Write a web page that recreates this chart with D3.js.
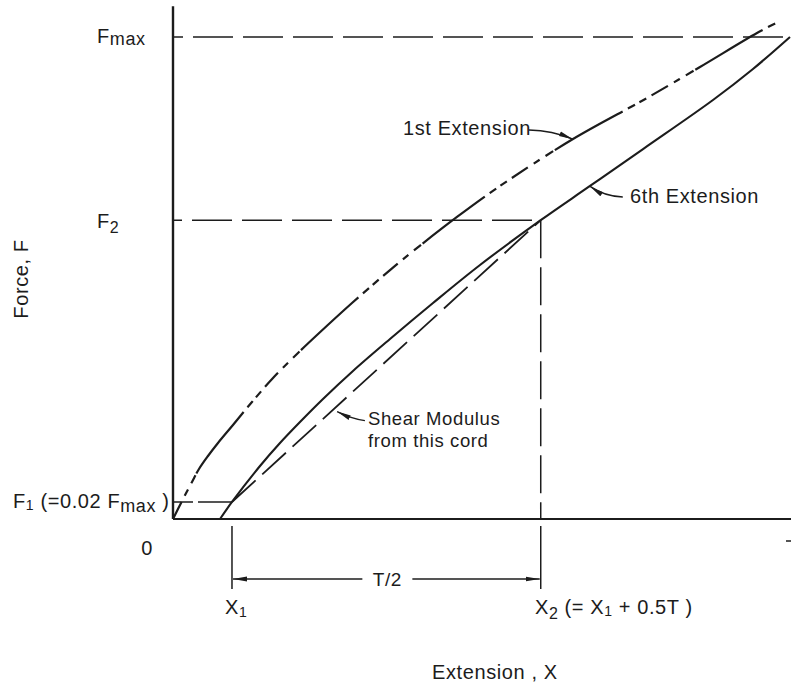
<!DOCTYPE html>
<html>
<head>
<meta charset="utf-8">
<script src="https://cdn.jsdelivr.net/npm/d3@7"></script>
<style>
  html, body { margin: 0; padding: 0; background: #fff; }
  svg { display: block; }
  text { font-family: "Liberation Sans", Arial, sans-serif; fill: #1c1c1c; letter-spacing: 0.6px; }
</style>
</head>
<body>
<svg id="chart" width="791" height="686"></svg>
<script>
// ---------------- DATA (extension in % of full width, force in % of Fmax) ----------------
const firstExtension = [
  [0, 0], [1.46, 3.73], [3.08, 7.68], [4.21, 10.37], [5.67, 13.07], [7.29, 15.77],
  [9.72, 19.50], [12.80, 24.27], [16.21, 29.25], [20.26, 34.44], [23.34, 38.17],
  [29.01, 44.81], [34.04, 50.41], [38.74, 55.39], [46.03, 62.66], [53.00, 69.09],
  [64.83, 78.84], [76.82, 87.34], [85.41, 93.78], [94.65, 100.83], [98.06, 103.11]
];
const sixthExtension = [
  [7.62, 0], [9.56, 3.53], [14.10, 11.00], [17.34, 15.77], [20.58, 20.12],
  [24.31, 24.90], [29.17, 30.71], [35.17, 37.34], [42.14, 44.81], [49.76, 52.70],
  [59.6, 62.0], [67.59, 69.09], [76.18, 76.76], [87.52, 86.93], [94.00, 93.36], [100, 100]
];
const forceLevels = { F1: 3.53, F2: 62.0, Fmax: 100 };
const extensionMarks = { X1: 9.56, X2: 59.6 };
const xDomain = [0, 100];
const yDomain = [0, 100];

// ---------------- LAYOUT ----------------
const svg = d3.select("#chart");
const x = d3.scaleLinear().domain(xDomain).range([173, 790]);
const y = d3.scaleLinear().domain(yDomain).range([519, 37]);
const ink = "#1c1c1c";

const defs = svg.append("defs");
defs.append("marker").attr("id", "ah")
  .attr("viewBox", "0 0 14 6").attr("refX", 14).attr("refY", 3)
  .attr("markerWidth", 14).attr("markerHeight", 6)
  .attr("markerUnits", "userSpaceOnUse").attr("orient", "auto-start-reverse")
  .append("path").attr("d", "M0,0.6 L14,3 L0,5.4 Z").attr("fill", ink);

// axes
svg.append("line").attr("x1", x(0)).attr("x2", x(0)).attr("y1", y(106.4)).attr("y2", y(0))
  .attr("stroke", ink).attr("stroke-width", 2.4);
svg.append("line").attr("x1", x(0)).attr("x2", 791).attr("y1", y(0)).attr("y2", y(0))
  .attr("stroke", ink).attr("stroke-width", 2);
// small right-end tick
svg.append("line").attr("x1", 786).attr("x2", 791).attr("y1", 541).attr("y2", 541)
  .attr("stroke", ink).attr("stroke-width", 1.5);

// reference dashed lines
const dashRef = "40,10";
svg.append("line").attr("x1", x(0)).attr("x2", x(100)).attr("y1", y(forceLevels.Fmax)).attr("y2", y(forceLevels.Fmax))
  .attr("stroke", ink).attr("stroke-width", 1.5).attr("stroke-dasharray", dashRef).attr("stroke-dashoffset", 30);
svg.append("line").attr("x1", x(0)).attr("x2", x(extensionMarks.X2)).attr("y1", y(forceLevels.F2)).attr("y2", y(forceLevels.F2))
  .attr("stroke", ink).attr("stroke-width", 1.5).attr("stroke-dasharray", dashRef).attr("stroke-dashoffset", 31);
svg.append("line").attr("x1", x(extensionMarks.X2)).attr("x2", x(extensionMarks.X2)).attr("y1", y(forceLevels.F2)).attr("y2", y(0))
  .attr("stroke", ink).attr("stroke-width", 1.5).attr("stroke-dasharray", "38,9");
svg.append("line").attr("x1", x(0)).attr("x2", x(extensionMarks.X1)).attr("y1", y(forceLevels.F1)).attr("y2", y(forceLevels.F1))
  .attr("stroke", ink).attr("stroke-width", 1.5).attr("stroke-dasharray", "20,5,40");

// chord (shear modulus)
svg.append("line")
  .attr("x1", x(extensionMarks.X1)).attr("y1", y(forceLevels.F1))
  .attr("x2", x(extensionMarks.X2)).attr("y2", y(forceLevels.F2))
  .attr("stroke", ink).attr("stroke-width", 1.8).attr("stroke-dasharray", "32,9");

// curves
const line = d3.line().x(d => x(d[0])).y(d => y(d[1])).curve(d3.curveCatmullRom.alpha(0.5));
svg.append("path").datum(firstExtension).attr("d", line)
  .attr("fill", "none").attr("stroke", ink).attr("stroke-width", 2.2)
  .attr("stroke-dasharray", "19,7,7,7,9,2,78,6,8,5,8,6");
svg.append("path").datum(sixthExtension).attr("d", line)
  .attr("fill", "none").attr("stroke", ink).attr("stroke-width", 2.1);

// extension markers below axis
[extensionMarks.X1, extensionMarks.X2].forEach(v => {
  svg.append("line").attr("x1", x(v)).attr("x2", x(v)).attr("y1", 526).attr("y2", 589)
    .attr("stroke", ink).attr("stroke-width", 1.5);
});
// T/2 dimension arrow
const tMid = (extensionMarks.X1 + extensionMarks.X2) / 2;
svg.append("line").attr("x1", x(tMid) - 24).attr("x2", x(extensionMarks.X1) + 1).attr("y1", 579).attr("y2", 579)
  .attr("stroke", ink).attr("stroke-width", 1.5).attr("marker-end", "url(#ah)");
svg.append("line").attr("x1", x(tMid) + 26).attr("x2", x(extensionMarks.X2) - 1).attr("y1", 579).attr("y2", 579)
  .attr("stroke", ink).attr("stroke-width", 1.5).attr("marker-end", "url(#ah)");
svg.append("text").attr("x", x(tMid) + 1).attr("y", 586).attr("text-anchor", "middle")
  .attr("font-size", 19).text("T/2");

// annotation arrows (tail -> tip, in data units)
const annotArrows = [
  { tail: [57.7, 80.7], ctrl: [61.5, 80.6], tip: [64.8, 78.8] },
  { tail: [72.9, 66.8], ctrl: [70.0, 66.9], tip: [67.6, 69.0] },
  { tail: [31.1, 20.4], ctrl: [28.8, 20.9], tip: [26.6, 22.3] }
];
annotArrows.forEach(a => {
  svg.append("path")
    .attr("d", `M${x(a.tail[0])},${y(a.tail[1])} Q${x(a.ctrl[0])},${y(a.ctrl[1])} ${x(a.tip[0])},${y(a.tip[1])}`)
    .attr("fill", "none").attr("stroke", ink).attr("stroke-width", 1.4).attr("marker-end", "url(#ah)");
});

// texts
const fs = 20;
function addText(px, py, parts, anchor, size) {
  const t = svg.append("text").attr("x", px).attr("y", py).attr("font-size", size || fs)
    .attr("text-anchor", anchor || "start");
  parts.forEach(p => {
    const ts = t.append("tspan").text(p.t);
    if (p.sub) ts.attr("font-size", p.sub).attr("dy", p.dy);
    else if (p.dy) ts.attr("dy", p.dy);
  });
  return t;
}
addText(403, 135, [{ t: "1st Extension" }]);
addText(630, 203, [{ t: "6th Extension" }]);
addText(368, 425, [{ t: "Shear Modulus" }], "start", 18.5);
addText(368, 447, [{ t: "from this cord" }], "start", 18.5);

addText(97, 43, [{ t: "F" }, { t: "max", sub: 18, dy: 2 }]);
addText(97, 228, [{ t: "F" }, { t: "2", sub: 16, dy: 5 }]);
addText(13, 508, [{ t: "F" }, { t: "1", sub: 14, dy: 2 }, { t: " (=0.02 F", dy: -2 }, { t: "max", sub: 18, dy: 4 }, { t: " )", dy: -4 }]);
addText(147, 555, [{ t: "0" }], "middle");
addText(225, 614, [{ t: "X" }, { t: "1", sub: 14, dy: 3 }]);
addText(535, 614, [{ t: "X" }, { t: "2", sub: 16, dy: 5 }, { t: " (= X", dy: -5 }, { t: "1", sub: 14, dy: 2 }, { t: " + 0.5T )", dy: -2 }]);
addText(432, 679, [{ t: "Extension , X" }]);

svg.append("text").attr("transform", "translate(28,279) rotate(-90)")
  .attr("text-anchor", "middle").attr("font-size", fs).text("Force, F");
</script>
</body>
</html>
